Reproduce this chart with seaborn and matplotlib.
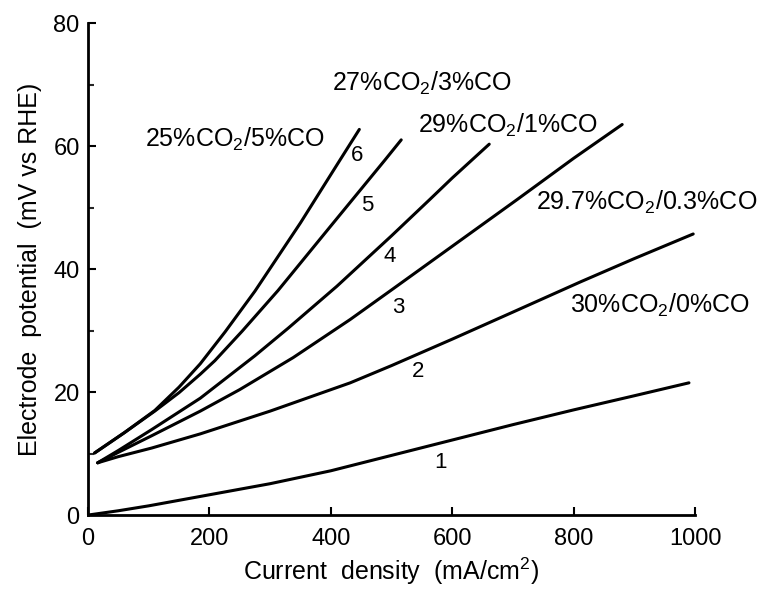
import pandas as pd
import matplotlib.pyplot as plt
import seaborn as sns

# curve values (current density mA/cm2 -> potential mV vs RHE)
x1 = [0, 50, 100, 200, 300, 400, 500, 600, 700, 800, 900, 990]
y1 = [0, 0.7, 1.5, 3.3, 5.1, 7.2, 9.7, 12.2, 14.7, 17.1, 19.4, 21.5]

x2 = [16, 50, 105, 185, 300, 432, 500, 600, 700, 811, 900, 997]
y2 = [8.5, 9.5, 10.9, 13.2, 16.9, 21.5, 24.3, 28.6, 33.0, 37.9, 41.7, 45.7]

x3 = [16, 50, 105, 185, 250, 338, 432, 500, 600, 707, 800, 880]
y3 = [8.5, 10.2, 12.9, 16.9, 20.4, 25.6, 31.8, 36.6, 43.7, 51.3, 58.0, 63.5]

x4 = [16, 50, 105, 185, 275, 330, 410, 500, 563, 600, 661]
y4 = [8.5, 10.5, 13.9, 19.0, 25.9, 30.4, 37.2, 45.4, 51.3, 54.8, 60.3]

x5 = [11, 60, 110, 150, 185, 209, 254, 313, 400, 489, 516]
y5 = [10.1, 13.4, 16.9, 19.9, 22.9, 25.1, 29.9, 36.5, 47.0, 57.7, 61.0]

x6 = [11, 60, 110, 150, 185, 226, 275, 350, 415, 447]
y6 = [10.1, 13.4, 17.0, 20.8, 24.6, 29.8, 36.4, 47.5, 57.7, 62.7]

curve_names = ["1", "2", "3", "4", "5", "6"]
xs = [x1, x2, x3, x4, x5, x6]
ys = [y1, y2, y3, y4, y5, y6]

# number labels next to curves
num_pos = {"1": (580, 8.6), "2": (544, 23.3), "3": (511, 33.8),
           "4": (497, 42.0), "5": (460, 50.4), "6": (443, 58.5)}

# gas composition labels
gas_labels = [r"30%CO$_2$/0%CO", r"29.7%CO$_2$/0.3%CO", r"29%CO$_2$/1%CO",
              r"27%CO$_2$/3%CO", r"25%CO$_2$/5%CO"]
gas_pos = [(942, 34.1), (921, 50.9), (692, 63.4), (550, 70.2), (242, 61.0)]

rows = []
for name, xx, yy in zip(curve_names, xs, ys):
    for a, b in zip(xx, yy):
        rows.append({"curve": name, "j": a, "E": b})
df = pd.DataFrame(rows)

sns.set_theme(style="ticks")
plt.rcParams['font.family'] = ['Liberation Sans', 'DejaVu Sans']
plt.rcParams['mathtext.fontset'] = 'custom'
plt.rcParams['mathtext.rm'] = 'Liberation Sans'
plt.rcParams['mathtext.it'] = 'Liberation Sans'
plt.rcParams['axes.labelcolor'] = 'black'
plt.rcParams['text.color'] = 'black'

fig = plt.figure(figsize=(7.61, 5.90), dpi=100)
ax = fig.add_axes([0.1156, 0.127, 0.7977, 0.834])

sns.lineplot(data=df, x="j", y="E", hue="curve", palette=["black"] * 6,
             estimator=None, linewidth=2.2, legend=False, ax=ax)

for k, (px, py) in num_pos.items():
    ax.text(px, py, k, fontsize=16, ha="center", va="center")
for lab, (px, py) in zip(gas_labels, gas_pos):
    ax.text(px, py, lab, fontsize=18, ha="center", va="center")

ax.set_xlim(0, 1000)
ax.set_ylim(0, 80)
ax.set_xticks(range(0, 1001, 200))
ax.set_yticks(range(0, 81, 20))
ax.set_yticks(range(10, 80, 20), minor=True)
ax.tick_params(axis="both", which="major", direction="in", length=6, width=1.5,
               labelsize=17, colors="black", pad=6)
ax.tick_params(axis="y", which="minor", direction="in", length=4, width=1.5)
ax.tick_params(axis="x", pad=9)
for s in ["left", "bottom"]:
    ax.spines[s].set_linewidth(2)
    ax.spines[s].set_color("black")
sns.despine(ax=ax)

ax.set_xlabel(r"Current  density  (mA/cm$^2$)", fontsize=18, labelpad=4)
ax.set_ylabel("Electrode  potential  (mV vs RHE)", fontsize=18, labelpad=8)

plt.savefig("out.png", dpi=100)
